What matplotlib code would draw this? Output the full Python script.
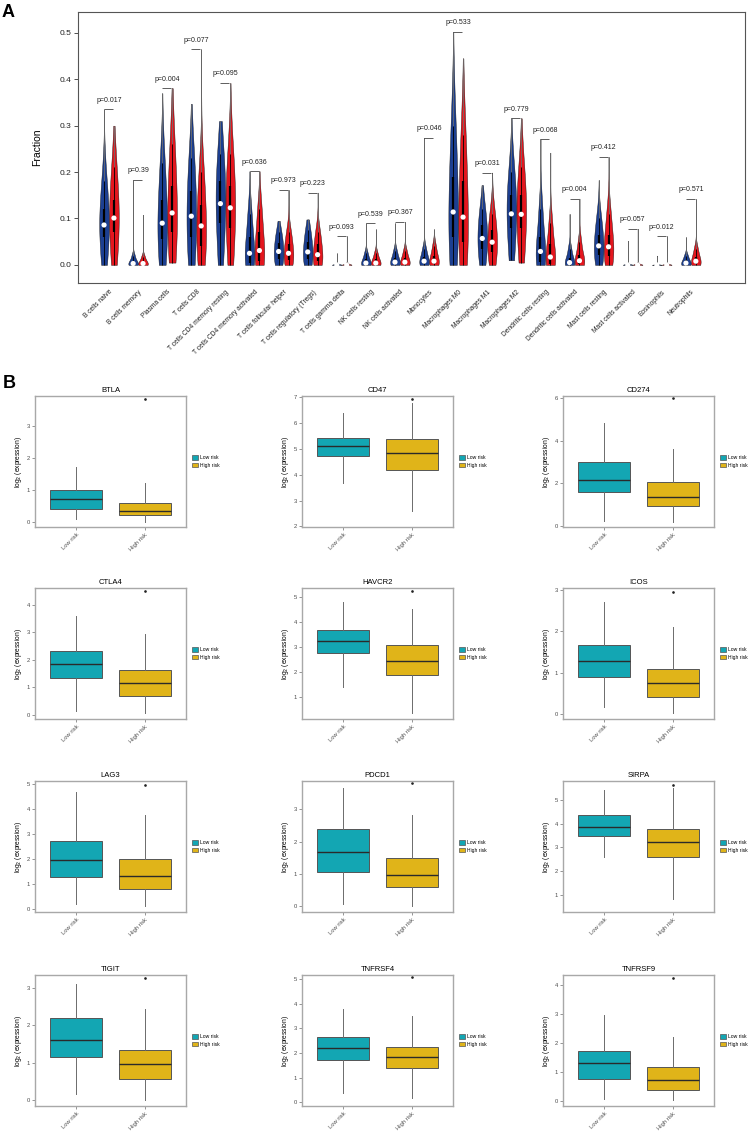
import numpy as np
import matplotlib
matplotlib.use('Agg')
import matplotlib.pyplot as plt
from matplotlib import cbook, mlab
from matplotlib.patches import Patch
from matplotlib.ticker import MultipleLocator

plt.rcParams['font.family'] = ['Liberation Sans', 'DejaVu Sans']

# ---------------- Panel A data ----------------
cells = ["B cells naive", "B cells memory", "Plasma cells", "T cells CD8",
         "T cells CD4 memory resting", "T cells CD4 memory activated",
         "T cells follicular helper", "T cells regulatory (Tregs)", "T cells gamma delta",
         "NK cells resting", "NK cells activated", "Monocytes", "Macrophages M0",
         "Macrophages M1", "Macrophages M2", "Dendritic cells resting",
         "Dendritic cells activated", "Mast cells resting", "Mast cells activated",
         "Eosinophils", "Neutrophils"]
pvals = ["0.017", "0.39", "0.004", "0.077", "0.095", "0.636", "0.973", "0.223", "0.093",
         "0.539", "0.367", "0.046", "0.533", "0.031", "0.779", "0.068", "0.004", "0.412",
         "0.057", "0.012", "0.571"]

blue_lo  = [0, 0, 0, 0, 0, 0, 0, 0, 0, 0, 0, 0, 0, 0, 0.01, 0, 0, 0, 0, 0, 0]
blue_q25 = [0.06, 0.0, 0.055, 0.06, 0.09, 0.005, 0.012, 0.012, 0.0, 0.0, 0.001, 0.001, 0.06, 0.035, 0.08, 0.006, 0.0, 0.022, 0.0, 0.0, 0.0]
blue_med = [0.086, 0.003, 0.09, 0.105, 0.132, 0.025, 0.029, 0.028, 0.0, 0.004, 0.006, 0.008, 0.114, 0.057, 0.11, 0.029, 0.005, 0.041, 0.0, 0.0, 0.004]
blue_q75 = [0.12, 0.008, 0.14, 0.16, 0.18, 0.06, 0.048, 0.05, 0.001, 0.012, 0.015, 0.018, 0.19, 0.085, 0.15, 0.06, 0.015, 0.065, 0.001, 0.0005, 0.01]
blue_q90 = [0.18, 0.02, 0.22, 0.23, 0.24, 0.11, 0.07, 0.075, 0.003, 0.025, 0.03, 0.035, 0.30, 0.12, 0.20, 0.12, 0.035, 0.10, 0.003, 0.002, 0.02]
blue_hi  = [0.335, 0.183, 0.37, 0.347, 0.31, 0.202, 0.095, 0.098, 0.025, 0.09, 0.09, 0.274, 0.502, 0.172, 0.316, 0.271, 0.11, 0.183, 0.052, 0.02, 0.06]

red_lo  = [0, 0, 0.005, 0, 0, 0, 0, 0, 0, 0, 0, 0, 0, 0, 0.005, 0, 0, 0, 0, 0, 0]
red_q25 = [0.07, 0.0, 0.07, 0.04, 0.08, 0.008, 0.01, 0.008, 0.0, 0.0, 0.001, 0.001, 0.05, 0.028, 0.08, 0.003, 0.001, 0.02, 0.0, 0.0, 0.001]
red_med = [0.101, 0.003, 0.112, 0.084, 0.123, 0.031, 0.025, 0.022, 0.0, 0.004, 0.006, 0.008, 0.103, 0.049, 0.109, 0.017, 0.009, 0.039, 0.0, 0.0, 0.008]
red_q75 = [0.14, 0.008, 0.17, 0.13, 0.17, 0.07, 0.045, 0.045, 0.001, 0.012, 0.015, 0.02, 0.18, 0.075, 0.15, 0.045, 0.022, 0.065, 0.001, 0.001, 0.018]
red_q90 = [0.21, 0.018, 0.26, 0.20, 0.24, 0.12, 0.07, 0.07, 0.004, 0.025, 0.03, 0.04, 0.28, 0.11, 0.21, 0.09, 0.05, 0.11, 0.004, 0.003, 0.035]
red_hi  = [0.30, 0.108, 0.381, 0.465, 0.392, 0.202, 0.162, 0.156, 0.062, 0.077, 0.093, 0.077, 0.445, 0.199, 0.316, 0.242, 0.143, 0.233, 0.078, 0.062, 0.142]

# ---------------- Panel B data ----------------
genes = ["BTLA", "CD47", "CD274", "CTLA4", "HAVCR2", "ICOS",
         "LAG3", "PDCD1", "SIRPA", "TIGIT", "TNFRSF4", "TNFRSF9"]
groups = ["Low risk", "High risk"]
low_whislo = [0.08, 3.67, 0.25, 0.13, 1.4, 0.18, 0.21, 0.07, 2.6, 0.16, 0.35, 0.07]
low_q1     = [0.41, 4.73, 1.6, 1.33, 2.76, 0.89, 1.29, 1.07, 3.47, 1.15, 1.7, 0.75]
low_med    = [0.71, 5.11, 2.15, 1.83, 3.22, 1.28, 1.95, 1.69, 3.86, 1.6, 2.2, 1.3]
low_q3     = [0.99, 5.42, 3.0, 2.33, 3.69, 1.68, 2.73, 2.38, 4.36, 2.19, 2.65, 1.72]
low_whishi = [1.72, 6.41, 4.82, 3.6, 4.8, 2.71, 4.7, 3.66, 5.4, 3.1, 3.78, 2.98]
high_whislo = [0.01, 2.61, 0.19, 0.06, 0.34, 0.02, 0.12, 0.01, 0.86, 0.01, 0.15, 0.03]
high_q1     = [0.2, 4.2, 0.95, 0.69, 1.87, 0.42, 0.82, 0.6, 2.58, 0.57, 1.38, 0.38]
high_med    = [0.34, 4.83, 1.36, 1.15, 2.44, 0.75, 1.31, 0.96, 3.24, 0.96, 1.85, 0.72]
high_q3     = [0.59, 5.38, 2.05, 1.64, 3.07, 1.1, 1.99, 1.5, 3.78, 1.33, 2.24, 1.17]
high_whishi = [1.21, 6.79, 3.6, 2.93, 4.52, 2.11, 3.75, 2.82, 5.49, 2.44, 3.5, 2.22]
high_outlier = [3.84, 6.93, 6.0, 4.5, 5.23, 2.95, 4.96, 3.8, 5.61, 3.27, 5.08, 4.22]
ylims = [(-0.16, 3.94), (1.98, 7.05), (-0.05, 6.1), (-0.15, 4.6), (0.1, 5.37), (-0.12, 3.05),
         (-0.12, 5.13), (-0.17, 3.87), (0.3, 5.78), (-0.15, 3.34), (-0.16, 5.18), (-0.17, 4.34)]
ytick_step = [1, 1, 2, 1, 1, 1, 1, 1, 1, 1, 1, 1]

BLUE = '#1C3F91'
RED = '#E3161E'
TEAL = '#13A6B3'
GOLD = '#E0B419'

W, H = 750, 1132
fig = plt.figure(figsize=(W / 100, H / 100), dpi=100)


def px_axes(left, top, width, height):
    return fig.add_axes([left / W, 1 - (top + height) / H, width / W, height / H])


# ---------------- Panel A ----------------
axA = px_axes(78, 12, 667, 271)
n = len(cells)
xpos = np.arange(n)
off = 0.17


def kde_method(x, coords):
    body = np.asarray(x)[:-1]
    kde = mlab.GaussianKDE(body, bw_method=0.85)
    return kde.evaluate(coords)


for lo, q25, med, q75, q90, hi, sign, col in [
        (blue_lo, blue_q25, blue_med, blue_q75, blue_q90, blue_hi, -1, BLUE),
        (red_lo, red_q25, red_med, red_q75, red_q90, red_hi, 1, RED)]:
    X = [[lo[i], q25[i], med[i], q75[i], q90[i], hi[i]] for i in range(n)]
    stats = cbook.violin_stats(X, kde_method, points=300)
    pos = xpos + sign * off
    parts = axA.violin(stats, positions=pos, widths=0.33, showmeans=False,
                       showextrema=False, showmedians=False)
    for b in parts['bodies']:
        b.set_facecolor(col)
        b.set_edgecolor('#111111')
        b.set_linewidth(0.3)
        b.set_alpha(1)
        b.set_zorder(2)
    axA.vlines(pos, q90, hi, color='#6e6e6e', lw=0.6, zorder=3)
    axA.vlines(pos, lo, q90, color='black', lw=0.6, zorder=3)
    axA.vlines(pos, q25, q75, color='black', lw=1.6, zorder=3)
    axA.scatter(pos, med, s=14, c='white', edgecolors='none', zorder=4)

for i in range(n):
    yb = max(blue_hi[i], red_hi[i])
    axA.hlines(yb, i - off, i + off - 0.03, color='#444444', lw=0.6, zorder=3)
    axA.text(i, yb + 0.012, 'p=' + pvals[i], ha='center', va='bottom', fontsize=5, color='#222222')

axA.set_xlim(-1.065, n - 1 + 1.86)
axA.set_ylim(-0.039, 0.545)
axA.set_yticks([0.0, 0.1, 0.2, 0.3, 0.4, 0.5])
axA.set_yticklabels(['0.0', '0.1', '0.2', '0.3', '0.4', '0.5'], fontsize=6, color='#222222')
axA.set_xticks(xpos)
axA.set_xticklabels(cells, rotation=45, ha='right', rotation_mode='anchor',
                    fontsize=4.8, color='#222222')
axA.tick_params(axis='x', length=0, pad=4)
axA.tick_params(axis='y', length=3, width=0.6, pad=2, color='#333333')
axA.set_ylabel('Fraction', fontsize=7.5)
axA.yaxis.set_label_coords(-0.054, 0.5)
for s in axA.spines.values():
    s.set_color('#555555')
    s.set_linewidth(0.8)

fig.text(2 / W, 1 - 4 / H, 'A', fontsize=13, fontweight='bold', va='top', ha='left')
fig.text(3 / W, 1 - 375 / H, 'B', fontsize=13, fontweight='bold', va='top', ha='left')

# ---------------- Panel B ----------------
col_left = [35, 302, 563]
row_top = [396, 588, 781, 975]
for k, g in enumerate(genes):
    r, c = divmod(k, 3)
    ax = px_axes(col_left[c], row_top[r], 151, 131)
    st = [
        dict(med=low_med[k], q1=low_q1[k], q3=low_q3[k], whislo=low_whislo[k],
             whishi=low_whishi[k], fliers=[]),
        dict(med=high_med[k], q1=high_q1[k], q3=high_q3[k], whislo=high_whislo[k],
             whishi=high_whishi[k], fliers=[high_outlier[k]]),
    ]
    bp = ax.bxp(st, positions=[1, 2], widths=0.75, patch_artist=True, showcaps=False,
                boxprops=dict(edgecolor='#555555', linewidth=0.7),
                medianprops=dict(color='#2a2a2a', linewidth=1.0),
                whiskerprops=dict(color='#6b6b6b', linewidth=0.7),
                flierprops=dict(marker='o', markersize=0.9, markerfacecolor='#222222',
                                markeredgecolor='#222222'))
    for patch, fc in zip(bp['boxes'], [TEAL, GOLD]):
        patch.set_facecolor(fc)
    ax.set_xlim(0.4, 2.6)
    ax.set_ylim(*ylims[k])
    ax.yaxis.set_major_locator(MultipleLocator(ytick_step[k]))
    ax.set_xticks([1, 2])
    ax.set_xticklabels(groups, rotation=45, ha='right', rotation_mode='anchor',
                       fontsize=4.2, color='#4d4d4d')
    ax.tick_params(axis='both', length=2, width=0.5, color='#6b6b6b', pad=1.5,
                   labelsize=4.2, labelcolor='#4d4d4d')
    ax.set_title(g, fontsize=5.5, pad=3)
    ax.set_ylabel(r'log$_2$ (expression)', fontsize=4.8, labelpad=2)
    for s in ax.spines.values():
        s.set_color('#a8a8a8')
        s.set_linewidth(1.0)
    handles = [Patch(facecolor=TEAL, edgecolor='#555555', linewidth=0.5),
               Patch(facecolor=GOLD, edgecolor='#555555', linewidth=0.5)]
    ax.legend(handles, groups, loc='center left', bbox_to_anchor=(1.04, 0.5),
              frameon=False, fontsize=3.6, handlelength=1.1, handleheight=0.9,
              handletextpad=0.5, labelspacing=0.5, borderaxespad=0, borderpad=0)

fig.savefig('out.png', dpi=100)
